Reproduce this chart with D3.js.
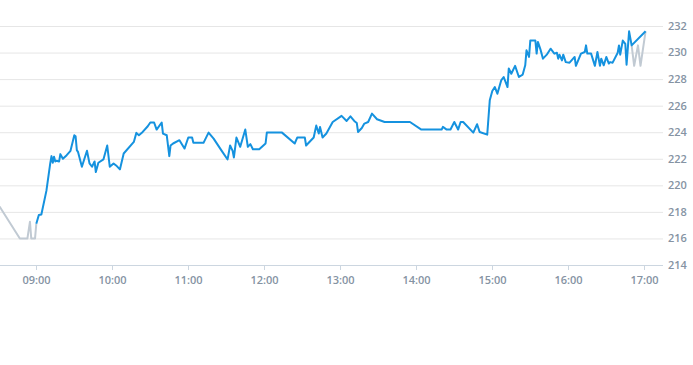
<!DOCTYPE html>
<html>
<head>
<meta charset="utf-8">
<script src="https://cdn.jsdelivr.net/npm/d3@7"></script>
<style>
  body { margin: 0; background: #fff; }
  svg { display: block; font-family: "Open Sans", "DejaVu Sans", sans-serif; }
  .tick-label { fill: #8593a3; font-size: 11px; font-weight: 600; }
</style>
</head>
<body>
<svg id="chart" width="693" height="365"></svg>
<script>
// pre-market (grey), regular session (blue), after-hours (grey)
var preTimes = ["08:31", "08:47", "08:53", "08:55", "08:56", "08:59"];
var preValues = [218.4, 216.0, 216.0, 217.26, 216.0, 216.0];

var sessionTimes = [
  "09:00", "09:02", "09:04", "09:08", "09:11", "09:12", "09:13", "09:14", "09:15", "09:16",
  "09:18", "09:19", "09:21", "09:24", "09:27", "09:30", "09:31", "09:32", "09:33", "09:36",
  "09:40", "09:42", "09:44", "09:46", "09:47", "09:49", "09:53", "09:56", "09:58", "10:01",
  "10:03", "10:06", "10:09", "10:17", "10:19", "10:21", "10:24", "10:28", "10:30", "10:33",
  "10:35", "10:39", "10:40", "10:43", "10:45", "10:46", "10:48", "10:53", "10:57", "11:00",
  "11:03", "11:04", "11:12", "11:16", "11:20", "11:26", "11:31", "11:33", "11:35", "11:36",
  "11:38", "11:41", "11:45", "11:47", "11:49", "11:51", "11:56", "12:01", "12:02", "12:14",
  "12:24", "12:26", "12:32", "12:33", "12:39", "12:41", "12:43", "12:44", "12:46", "12:49",
  "12:54", "13:01", "13:05", "13:08", "13:11", "13:13", "13:14", "13:17", "13:19", "13:22",
  "13:25", "13:29", "13:35", "13:55", "14:04", "14:20", "14:21", "14:24", "14:27", "14:30",
  "14:33", "14:35", "14:37", "14:45", "14:48", "14:50", "14:56", "14:58", "15:00", "15:02",
  "15:04", "15:07", "15:09", "15:12", "15:13", "15:15", "15:18", "15:21", "15:24", "15:26",
  "15:27", "15:29", "15:30", "15:34", "15:35", "15:36", "15:38", "15:40", "15:43", "15:46",
  "15:49", "15:51", "15:52", "15:53", "15:55", "15:56", "15:58", "16:01", "16:05", "16:06",
  "16:10", "16:13", "16:14", "16:15", "16:18", "16:21", "16:23", "16:25", "16:26", "16:28",
  "16:30", "16:32", "16:33", "16:35", "16:39", "16:40", "16:41", "16:43", "16:45", "16:46",
  "16:48", "16:50"
];
var sessionValues = [
  217.1, 217.76, 217.8, 219.6, 221.65, 222.2, 221.7, 222.15, 221.8, 221.85,
  221.8, 222.35, 222.0, 222.27, 222.6, 223.77, 223.7, 222.65, 222.5, 221.4,
  222.6, 221.65, 221.4, 221.8, 221.0, 221.7, 221.95, 223.0, 221.4, 221.65,
  221.5, 221.2, 222.4, 223.27, 223.95, 223.77, 224.02, 224.45, 224.73, 224.73,
  224.2, 224.73, 223.9, 223.77, 222.2, 223.0, 223.15, 223.4, 222.77, 223.6,
  223.6, 223.2, 223.2, 223.97, 223.52, 222.65, 221.95, 223.0, 222.6, 222.1,
  223.6, 222.9, 224.2, 222.9, 223.1, 222.72, 222.72, 223.15, 223.97, 223.97,
  223.15, 223.6, 223.6, 223.0, 223.6, 224.5, 223.9, 224.4, 223.6, 223.9,
  224.77, 225.23, 224.85, 225.2, 224.85, 224.7, 224.02, 224.32, 224.65, 224.77,
  225.4, 224.98, 224.77, 224.77, 224.2, 224.2, 224.4, 224.2, 224.2, 224.77,
  224.2, 224.77, 224.77, 223.97, 224.6, 224.02, 223.82, 226.4, 227.1, 227.4,
  226.9, 227.9, 228.16, 227.4, 228.8, 228.4, 229.0, 228.16, 228.34, 229.04,
  230.17, 229.67, 230.9, 230.9, 229.92, 230.8, 230.24, 229.54, 229.84, 230.29,
  229.92, 229.99, 229.54, 229.84, 229.41, 229.84, 229.28, 229.24, 229.67, 229.0,
  229.92, 230.04, 230.54, 229.92, 229.92, 229.0, 230.04, 229.0, 229.54, 229.04,
  229.67, 229.17, 229.28, 229.24, 229.99, 230.54, 229.84, 230.9, 230.65, 229.09,
  231.6, 230.54
];

var postTimes = ["16:52", "16:55", "16:57", "17:01"];
var postValues = [229.0, 230.54, 229.0, 231.6];

var yTicks = [214, 216, 218, 220, 222, 224, 226, 228, 230, 232];

var width = 693, height = 365;
var plotRight = 663, plotTop = 26, plotBottom = 265;

var parse = function(t) { return d3.timeParse("%H:%M")(t); };
var toPoints = function(times, values) {
  return times.map(function(t, i) { return { date: parse(t), value: values[i] }; });
};

var pre = toPoints(preTimes, preValues);
var session = toPoints(sessionTimes, sessionValues);
var post = toPoints(postTimes, postValues);

var x = d3.scaleTime()
  .domain([parse("09:00"), parse("17:00")])
  .range([36.3, 644.3]);
var y = d3.scaleLinear()
  .domain([214, 232])
  .range([plotBottom, plotTop]);

var svg = d3.select("#chart");

// grid
svg.append("g").selectAll("line").data(yTicks.slice(1)).enter().append("line")
  .attr("x1", 0).attr("x2", plotRight)
  .attr("y1", function(d) { return y(d) + 0.5; })
  .attr("y2", function(d) { return y(d) + 0.5; })
  .attr("stroke", "#e6e6e6").attr("stroke-width", 1);

// bottom axis
svg.append("line")
  .attr("x1", 0).attr("x2", plotRight)
  .attr("y1", plotBottom + 0.5).attr("y2", plotBottom + 0.5)
  .attr("stroke", "#ccd6e0");

var xTicks = d3.timeHour.range(parse("09:00"), parse("17:01"));
var xt = svg.append("g").selectAll("g").data(xTicks).enter().append("g")
  .attr("transform", function(d) { return "translate(" + (Math.round(x(d)) + 0.5) + ",0)"; });
xt.append("line")
  .attr("y1", plotBottom).attr("y2", plotBottom + 5)
  .attr("stroke", "#ccd6e0");
xt.append("text")
  .attr("class", "tick-label")
  .attr("y", plotBottom + 19)
  .attr("text-anchor", "middle")
  .text(d3.timeFormat("%H:%M"));

// right axis labels
svg.append("g").selectAll("text").data(yTicks).enter().append("text")
  .attr("class", "tick-label")
  .attr("x", 668)
  .attr("y", function(d) { return y(d); })
  .attr("dy", "0.35em")
  .text(function(d) { return d; });

var line = d3.line()
  .x(function(d) { return x(d.date); })
  .y(function(d) { return y(d.value); });

// grey line for extended hours, drawn under the session line
svg.append("path")
  .datum(pre.concat(session.slice(0, 1)))
  .attr("d", line)
  .attr("fill", "none").attr("stroke", "#c1cad3").attr("stroke-width", 2)
  .attr("stroke-linejoin", "round");
svg.append("path")
  .datum(session.slice(-1).concat(post))
  .attr("d", line)
  .attr("fill", "none").attr("stroke", "#c1cad3").attr("stroke-width", 2)
  .attr("stroke-linejoin", "round");

svg.append("path")
  .datum(session.concat(post.slice(-1)))
  .attr("d", line)
  .attr("fill", "none").attr("stroke", "#1592df").attr("stroke-width", 2)
  .attr("stroke-linejoin", "round");
</script>
</body>
</html>
